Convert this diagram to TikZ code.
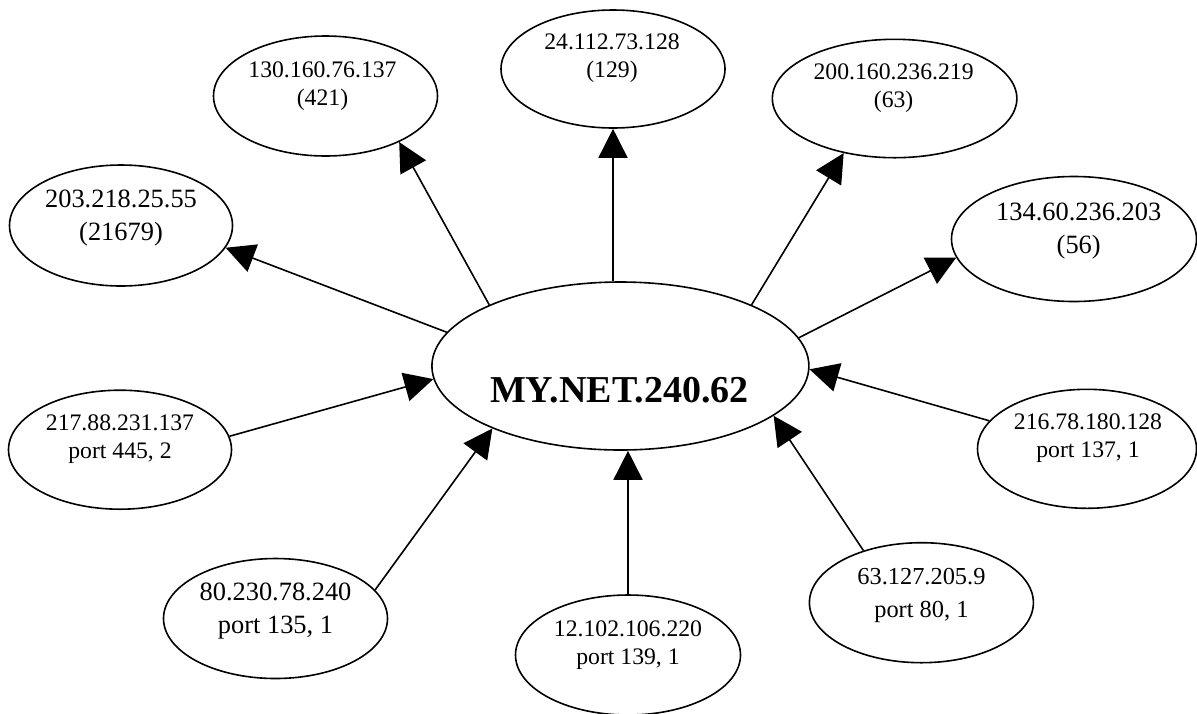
\documentclass[tikz,border=0pt]{standalone}
\usepackage{fontspec}
\setmainfont{Liberation Serif}
\usetikzlibrary{shapes,arrows.meta,positioning}

\begin{document}
\begin{tikzpicture}[
    x=0.5pt, y=-0.5pt,
    host/.style={ellipse, draw, line width=0.8pt, inner sep=0pt, minimum width=112pt, minimum height=60pt},
    smalltext/.style={align=center, inner sep=0pt, font=\fontsize{11.85}{14}\selectfont},
    bigtext/.style={align=center, inner sep=0pt, font=\fontsize{13.2}{16.5}\selectfont},
    arrow/.style={-{Triangle[length=14.5pt, width=14.5pt]}, line width=0.8pt}
]
\useasboundingbox (0,0) rectangle (1197,713);

% Monitored host
\node[host, minimum width=188.5pt, minimum height=84pt] (mynet) at (620.4,366) {};
\node[inner sep=0pt, font=\fontsize{19}{21}\selectfont\bfseries] (mynet-t) at ([shift={(-1,24)}]mynet) {MY.NET.240.62};

% Destinations (outgoing)
\node[host] (n130) at (325.5,96) {};
\node[smalltext] (n130-t) at ([shift={(-3,-10)}]n130) {130.160.76.137\\(421)};

\node[host, minimum height=59pt] (n24) at (613,69) {};
\node[smalltext] (n24-t) at ([shift={(-1,-11)}]n24) {24.112.73.128\\(129)};

\node[host, minimum width=122.25pt, minimum height=59.2pt] (n200) at (894.6,98.5) {};
\node[smalltext] (n200-t) at ([shift={(-1,-10.5)}]n200) {200.160.236.219\\(63)};

\node[host, minimum width=111.5pt, minimum height=60.5pt] (n203) at (121,225.5) {};
\node[bigtext] (n203-t) at ([shift={(0,-7)}]n203) {203.218.25.55\\(21679)};

\node[host, minimum width=122.5pt, minimum height=62.5pt] (n134) at (1074,239) {};
\node[bigtext] (n134-t) at ([shift={(4.7,-8)}]n134) {134.60.236.203\\(56)};

% Sources (incoming)
\node[host, minimum width=111.5pt, minimum height=59.5pt] (n217) at (120,449.7) {};
\node[smalltext] (n217-t) at ([shift={(0,-11)}]n217) {217.88.231.137\\port 445, 2};

\node[host, minimum width=109.5pt, minimum height=59.5pt] (n216) at (1087,448.8) {};
\node[smalltext] (n216-t) at ([shift={(1,-11)}]n216) {216.78.180.128\\port 137, 1};

\node[host] (n80) at (275.5,618.5) {};
\node[bigtext] (n80-t) at ([shift={(0,-7.5)}]n80) {80.230.78.240\\port 135, 1};

\node[host, minimum width=112.5pt] (n12) at (628,655) {};
\node[smalltext] (n12-t) at ([shift={(0,-10)}]n12) {12.102.106.220\\port 139, 1};

\node[host] (n63) at (921.4,602.7) {};
\node[align=center, inner sep=0pt, font=\fontsize{12.2}{16.5}\selectfont] (n63-t) at ([shift={(0,-7.5)}]n63) {63.127.205.9\\port 80, 1};

% Arrows out
\draw[arrow] (mynet.169) -- (n203.-12);
\draw[arrow] (mynet.155) -- (n130.-32);
\draw[arrow] (mynet.north -| n24.south) -- (n24.south);
\draw[arrow] (mynet.25) -- (n200.227);
\draw[arrow] (mynet.9) -- (n134.189);

% Arrows in
\draw[arrow] (n217.7) -- (mynet.184);
\draw[arrow] (n80.16) -- (mynet.206);
\draw[arrow] (n12.north) -- (n12.north |- mynet.south);
\draw[arrow] (n63.138) -- (mynet.-18);
\draw[arrow] (n216.164) -- (mynet.-1);

\end{tikzpicture}
\end{document}
